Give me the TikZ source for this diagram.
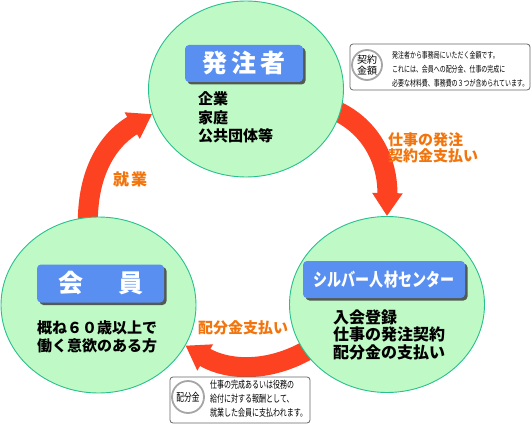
\documentclass[tikz,border=0pt]{standalone}
\usepackage{fontspec}
\newfontfamily\jp{Noto Sans CJK JP}
\newfontfamily\jpmoyen[FakeStretch=0.78]{Noto Sans CJK JP}
\newfontfamily\jpetroit[FakeStretch=0.7]{Noto Sans CJK JP}
\usetikzlibrary{arrows.meta,shapes.geometric,shadows,backgrounds}

\definecolor{vertclair}{RGB}{190,249,198}
\definecolor{vertbord}{RGB}{40,192,140}
\definecolor{bleutitre}{RGB}{90,143,242}
\definecolor{rougefleche}{RGB}{252,66,32}
\definecolor{orangetexte}{RGB}{242,116,12}

\tikzset{
  cercle/.style={ellipse,minimum width=195pt,minimum height=176pt,inner sep=0pt,fill=vertclair,draw=vertbord,line width=0.9pt},
  titre/.style={rounded corners=4pt,fill=bleutitre,text=white,inner sep=0pt,
    drop shadow={shadow xshift=2.5pt,shadow yshift=-2.5pt,opacity=0.85,fill=black!75}},
  contenu/.style={font=\jp\bfseries\fontsize{15}{18}\selectfont,align=left,anchor=base west,inner sep=0pt},
  fleche/.style={draw=rougefleche,line width=20pt,-{Triangle[width=29pt,length=23pt]}},
  legende/.style={font=\jp\bfseries\fontsize{15}{16.5}\selectfont,text=orangetexte,align=left,inner sep=0pt},
  cadre/.style={draw=gray!80!black,fill=white,rounded corners=3pt,line width=0.8pt},
  pastille/.style={circle,draw=gray!70,line width=1.8pt,fill=white,minimum size=30pt,inner sep=0pt,align=center},
  note/.style={font=\jpetroit\fontsize{8.5}{14}\selectfont,align=left,anchor=base west,inner sep=0pt}
}

\begin{document}
\begin{tikzpicture}[x=1pt,y=-1pt]
	\useasboundingbox (0,0) rectangle (532,425);
	% Cercles
	\node[cercle] (haut) at (246,89) {};
	\node[cercle] (gauche) at (98.5,305) {};
	\node[cercle] (droite) at (387,304.5) {};
	
	% Titres
	\node[titre,minimum width=118pt,minimum height=37pt,font=\jp\bfseries\fontsize{25}{25}\selectfont] (tHaut) at (244,63.5) {発\hspace{4pt}注\hspace{4pt}者};
	\node[titre,minimum width=127pt,minimum height=38pt,font=\jp\bfseries\fontsize{25}{25}\selectfont] (tGauche) at (100.5,283.5) {会\hspace{35pt}員};
	\node[titre,minimum width=162pt,minimum height=37pt,font=\jpmoyen\bfseries\fontsize{18}{18}\selectfont] (tDroite) at (384,279.5) {シルバー人材センター};
	
	% Contenus
	\node[contenu] (cHaut) at (198,141) {企業\\家庭\\公共団体等};
	\node[contenu] (cGauche) at (37,351) {概ね６０歳以上で\\働く意欲のある方};
	\node[contenu,font=\jp\bfseries\fontsize{16}{17.5}\selectfont] (cDroite) at (333,358) {入会登録\\仕事の発注契約\\配分金の支払い};
	
	% Flèches
	\begin{pgfonlayer}{background}
		\draw[fleche,shorten <=-8pt] (haut.-14) .. controls (370,125) and (388,160) .. (droite.north);
		\draw[fleche,shorten <=-8pt] (gauche.97) .. controls (87,165) and (114,136) .. (haut.195);
		\draw[fleche,shorten <=-8pt] (droite.210) .. controls (268,374) and (226,370) .. (gauche.-25);
	\end{pgfonlayer}
	\node[legende,anchor=base west] (lContrat) at (388,161.5) {仕事の発注\\契約金支払い};
	\node[legende,font=\jp\bfseries\fontsize{16}{16}\selectfont] (lTravail) at (130,179) {就\hspace{2pt}業};
	\node[legende] (lRepartition) at (243,328) {配分金支払い};
	
	% Notes
	\node[cadre,minimum width=180pt,minimum height=46pt] (noteHaut) at (440,67) {};
	\node[pastille,font=\jp\fontsize{10}{11}\selectfont] (badgeHaut) at (367,65) {契約\\金額};
	\node[note] (texteHaut) at (392,86.5) {発注者から事務局にいただく金額です。\\これには、会員への配分金、仕事の完成に\\必要な材料費、事務費の３つが含められています。};
	
	\node[cadre,minimum width=140pt,minimum height=46pt] (noteBas) at (240,400) {};
	\node[pastille,minimum size=32pt,font=\jpetroit\fontsize{11}{11}\selectfont] (badgeBas) at (188,397) {配分金};
	\node[note,font=\jpetroit\fontsize{10}{14}\selectfont] (texteBas) at (210,416.5) {仕事の完成あるいは役務の\\給付に対する報酬として、\\就業した会員に支払われます。};
\end{tikzpicture}
\end{document}
